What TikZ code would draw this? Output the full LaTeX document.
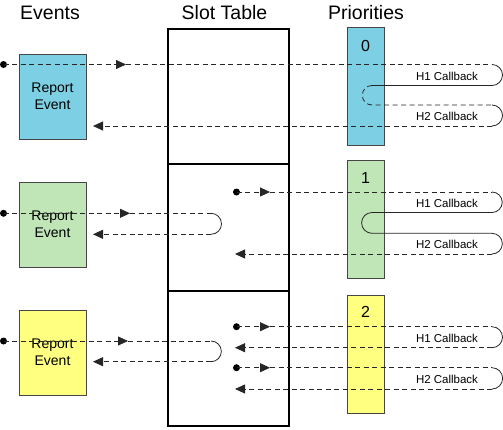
\documentclass[tikz,border=0pt]{standalone}
\usepackage{fontspec}
\setmainfont{Liberation Sans}
\usetikzlibrary{arrows.meta}
\definecolor{cyanbox}{RGB}{125,208,227}
\definecolor{greenbox}{RGB}{192,230,184}
\definecolor{yellowbox}{RGB}{255,255,128}
\definecolor{edgegray}{RGB}{70,70,70}
\begin{document}
\begin{tikzpicture}[x=1pt,y=-1pt,
  title/.style={font=\fontsize{19.5}{23}\selectfont, anchor=base, inner sep=0},
  evbox/.style={draw=edgegray, line width=0.8pt, minimum width=67pt, minimum height=85pt, inner sep=0, align=center, font=\fontsize{14}{17}\selectfont},
  prbox/.style={draw=edgegray, line width=0.8pt, minimum width=37pt, minimum height=118pt, inner sep=0},
  slotbox/.style={draw=black, line width=1.5pt, minimum width=121pt, inner sep=0},
  digit/.style={font=\fontsize{16}{18}\selectfont, inner sep=0},
  cb/.style={font=\fontsize{11.5}{13}\selectfont, inner sep=0},
  dline/.style={draw=black!85, line width=0.8pt, dash pattern=on 5pt off 3.5pt},
  sline/.style={draw=black!85, line width=0.8pt},
  arr/.style={-{Triangle[length=10pt,width=9pt]}},
  dotnode/.style={circle, fill=black, inner sep=0, minimum size=7pt}
]
\useasboundingbox (0,0) rectangle (503,429);
% titles
\node[title] (tev) at (50,19) {Events};
\node[title] (tslot) at (224.5,19) {Slot Table};
\node[title] (tpri) at (366,19) {Priorities};
% slot table
\node[slotbox, minimum height=135pt] (slot1) at (228.5,96.5) {};
\node[slotbox, minimum height=127pt] (slot2) at (228.5,227.5) {};
\node[slotbox, minimum height=135pt] (slot3) at (228.5,358.5) {};
% event boxes
\node[evbox, fill=cyanbox] (ev0) at (52.5,96.5) {Report\\Event};
\node[evbox, fill=greenbox] (ev1) at (52.5,224.5) {Report\\Event};
\node[evbox, fill=yellowbox] (ev2) at (52.5,352.5) {Report\\Event};
% priority boxes
\node[prbox, fill=cyanbox] (pr0) at (365.5,86) {};
\node[prbox, fill=greenbox] (pr1) at (365.5,219) {};
\node[prbox, fill=yellowbox] (pr2) at (365.5,354) {};
\node[digit] (n0) at (365.5,46) {0};
\node[digit] (n1) at (365.5,178) {1};
\node[digit] (n2) at (365.5,312) {2};
% callback labels
\node[cb] (h10) at (447,76) {H1 Callback};
\node[cb] (h20) at (447,116.5) {H2 Callback};
\node[cb] (h11) at (447,203.3) {H1 Callback};
\node[cb] (h21) at (447,244.3) {H2 Callback};
\node[cb] (h12) at (447,338.3) {H1 Callback};
\node[cb] (h22) at (447,379) {H2 Callback};
% dots
\node[dotnode] (d0) at (3.5,64.5) {};
\node[dotnode] (d1) at (3.5,213.3) {};
\node[dotnode] (d2) at (3.5,341) {};
\node[dotnode] (q1) at (236.5,192) {};
\node[dotnode] (q2a) at (236.5,326.7) {};
\node[dotnode] (q2b) at (236.5,367.7) {};
% ---- row 0
\coordinate (a0) at (126,64.5);
\coordinate (r0a) at (492,64.5);
\coordinate (b0) at (93,126);
\draw[dline,arr] (d0.center) -- (a0);
\draw[dline] (a0) -- (r0a);
\draw[sline] (r0a) arc[start angle=-90,end angle=90,radius=10.5] -- (372,85.5);
\draw[dline] (372,85.5) arc[start angle=-90,end angle=-270,radius=9.75] -- (492,105);
\draw[sline] (492,105) arc[start angle=-90,end angle=90,radius=10.5];
\draw[dline,arr] (492,126) -- (b0);
% ---- row 1 event
\coordinate (a1) at (130,213.3);
\coordinate (b1) at (93,234.3);
\draw[dline,arr] (d1.center) -- (a1);
\draw[dline] (a1) -- (211,213.3);
\draw[sline] (211,213.3) arc[start angle=-90,end angle=90,radius=10.5];
\draw[dline,arr] (211,234.3) -- (b1);
% ---- row 1 priority
\coordinate (c1) at (270,192);
\coordinate (e1) at (235,254);
\draw[dline,arr] (q1.center) -- (c1);
\draw[dline] (c1) -- (492,192);
\draw[sline] (492,192) arc[start angle=-90,end angle=90,radius=10.25] -- (372,212.5)
  arc[start angle=-90,end angle=-270,radius=10.4] -- (492,233.3)
  arc[start angle=-90,end angle=90,radius=10.35];
\draw[dline,arr] (492,254) -- (e1);
% ---- row 2 event
\coordinate (a2) at (128,341);
\coordinate (b2) at (93,361.7);
\draw[dline,arr] (d2.center) -- (a2);
\draw[dline] (a2) -- (211,341);
\draw[sline] (211,341) arc[start angle=-90,end angle=90,radius=10.35];
\draw[dline,arr] (211,361.7) -- (b2);
% ---- row 2 priority
\coordinate (c2a) at (270,326.7);
\coordinate (e2a) at (235,347.7);
\coordinate (c2b) at (270,367.7);
\coordinate (e2b) at (235,389);
\draw[dline,arr] (q2a.center) -- (c2a);
\draw[dline] (c2a) -- (492,326.7);
\draw[sline] (492,326.7) arc[start angle=-90,end angle=90,radius=10.5];
\draw[dline,arr] (492,347.7) -- (e2a);
\draw[dline,arr] (q2b.center) -- (c2b);
\draw[dline] (c2b) -- (492,367.7);
\draw[sline] (492,367.7) arc[start angle=-90,end angle=90,radius=10.65];
\draw[dline,arr] (492,389) -- (e2b);
\end{tikzpicture}
\end{document}
